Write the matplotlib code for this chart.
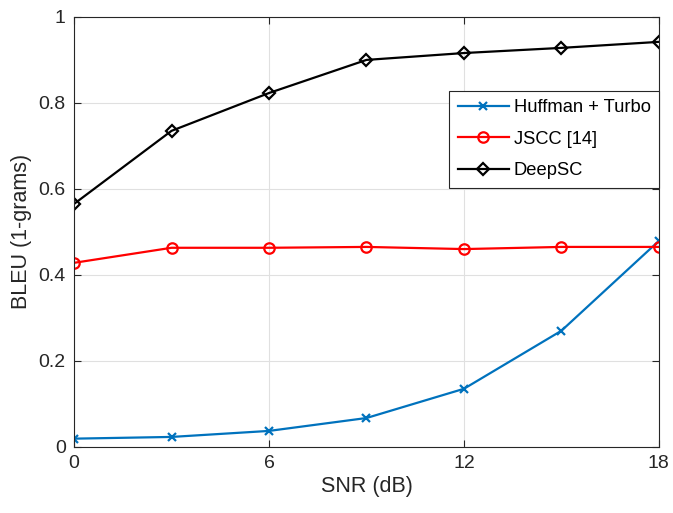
import numpy as np
import matplotlib.pyplot as plt

plt.rcParams['font.family'] = ['Liberation Sans', 'DejaVu Sans']

# Data
snr = [0, 3, 6, 9, 12, 15, 18]
huffman_turbo = [0.019, 0.023, 0.037, 0.067, 0.135, 0.270, 0.479]
jscc = [0.428, 0.463, 0.463, 0.465, 0.460, 0.465, 0.465]
deepsc = [0.565, 0.735, 0.823, 0.900, 0.916, 0.928, 0.942]

xticks = [0, 6, 12, 18]
yticks = [0, 0.2, 0.4, 0.6, 0.8, 1.0]
yticklabels = ['0', '0.2', '0.4', '0.6', '0.8', '1']

fig = plt.figure(figsize=(6.73, 5.13), dpi=100)
ax = fig.add_axes([0.110, 0.129, 0.869, 0.838])

ax.plot(snr, huffman_turbo, color='#0072BD', marker='x', markersize=5.5,
        markeredgewidth=1.6, linewidth=1.6, label='Huffman + Turbo')
ax.plot(snr, jscc, color='#FF0000', marker='o', markersize=7.5,
        markerfacecolor='none', markeredgewidth=1.6, linewidth=1.6, label='JSCC [14]')
ax.plot(snr, deepsc, color='black', marker='D', markersize=6.5,
        markerfacecolor='none', markeredgewidth=1.6, linewidth=1.6, label='DeepSC')

ax.set_xlim(0, 18)
ax.set_ylim(0, 1)
ax.set_xticks(xticks)
ax.set_yticks(yticks)
ax.set_yticklabels(yticklabels)
ax.tick_params(direction='in', top=True, right=True, labelsize=14,
               color='#262626', labelcolor='#262626', length=5, pad=6)
for s in ax.spines.values():
    s.set_color('#262626')
    s.set_linewidth(0.8)
ax.grid(True, color='#e0e0e0', linewidth=0.8)
ax.set_axisbelow(True)

ax.set_xlabel('SNR (dB)', fontsize=15.5, color='#262626', labelpad=3)
ax.set_ylabel('BLEU (1-grams)', fontsize=15.5, color='#262626', labelpad=5)

leg = ax.legend(loc='upper right', bbox_to_anchor=(1.0, 0.828), fontsize=13.2,
                fancybox=False, edgecolor='#262626', framealpha=1,
                borderaxespad=0, handlelength=2.8, handletextpad=0.25,
                labelspacing=0.8, borderpad=0.45)
leg.get_frame().set_linewidth(0.8)

fig.savefig('out.png', dpi=100)
